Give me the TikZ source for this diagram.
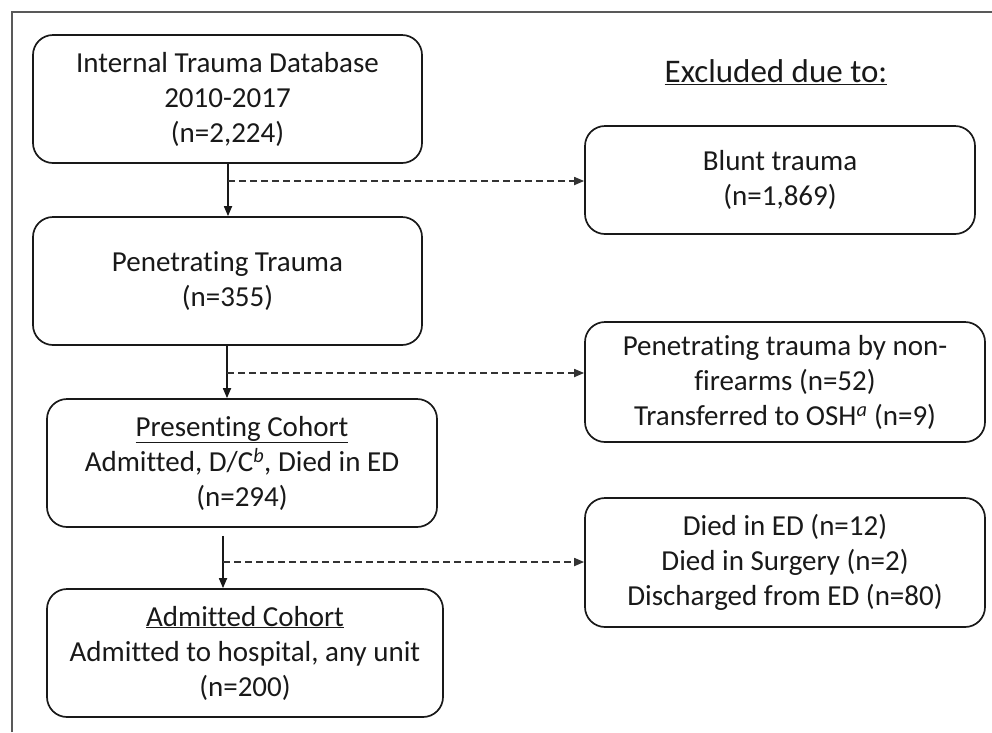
\documentclass[tikz,border=0pt]{standalone}
\usepackage{fontspec}
\setmainfont[Ligatures=NoCommon]{Carlito}
\usetikzlibrary{arrows.meta}
\tikzset{
  box/.style={draw=black!90, line width=1.7pt, rounded corners=20pt, align=center,
    inner sep=0pt, font=\fontsize{29}{35}\selectfont, text=black!90},
  flow/.style={line width=1.7pt, draw=black!90, -{Triangle[length=10pt,width=8pt]}},
  excl/.style={line width=1.7pt, draw=black!80, dash pattern=on 7pt off 4pt, -{Triangle[length=10pt,width=8pt]}},
}
\begin{document}
\begin{tikzpicture}[x=1pt,y=-1pt]
\useasboundingbox (0,0) rectangle (992,732);
\draw[line width=2pt, draw=black!65] (12,732) -- (12,12) -- (992,12);

\node[box, minimum width=389pt, minimum height=128pt] (db) at (227.5,99) {Internal Trauma Database\\2010-2017\\(n=2,224)};
\node[box, minimum width=389pt, minimum height=128pt] (pen) at (227.5,281) {Penetrating Trauma\\(n=355)};
\node[box, minimum width=390pt, minimum height=128pt] (pres) at (242,463) {\underline{Presenting Cohort}\\Admitted, D/C\textsuperscript{\textit{b}}, Died in ED\\(n=294)};
\node[box, minimum width=396pt, minimum height=128pt] (adm) at (245,653) {\underline{Admitted Cohort}\\Admitted to hospital, any unit\\(n=200)};

\node[font=\fontsize{33}{36}\selectfont, text=black!90] (hdr) at (776,72) {\underline{Excluded due to:}};
\node[box, minimum width=390pt, minimum height=108pt] (blunt) at (780,180) {Blunt trauma\\(n=1,869)};
\node[box, minimum width=400pt, minimum height=120pt] (nonfa) at (785,382) {Penetrating trauma by non-\\firearms (n=52)\\Transferred to OSH\textsuperscript{\textit{a}} (n=9)};
\node[box, minimum width=400pt, minimum height=129pt] (died) at (785,562.5) {Died in ED (n=12)\\Died in Surgery (n=2)\\Discharged from ED (n=80)};

\coordinate (a1) at (228,0);
\coordinate (a2) at (227,0);
\coordinate (a3) at (223,0);
\draw[flow] (a1 |- db.south) -- (a1 |- pen.north);
\draw[flow] (a2 |- pen.south) -- (a2 |- pres.north);
\draw[flow] (a3 |- pres.south) ++(0,8) coordinate (s3) -- (a3 |- adm.north);

\coordinate (j1) at (228,181);
\coordinate (j2) at (227,373);
\coordinate (j3) at (223,562);
\draw[excl] (j1) -- (j1 -| blunt.west);
\draw[excl] (j2) -- (j2 -| nonfa.west);
\draw[excl] (j3) -- (j3 -| died.west);
\end{tikzpicture}
\end{document}
